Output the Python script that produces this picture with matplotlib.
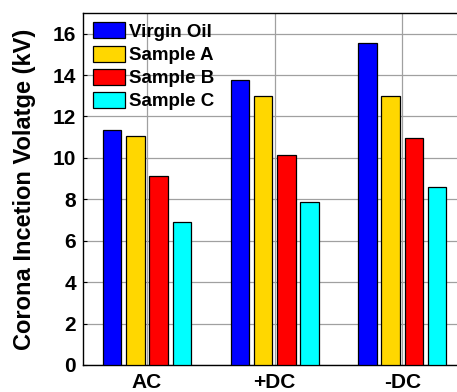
import numpy as np
import matplotlib
matplotlib.use("Agg")
import matplotlib.pyplot as plt
from matplotlib.patches import Patch

plt.rcParams['font.family'] = ['Liberation Sans', 'DejaVu Sans']
plt.rcParams['font.weight'] = 'bold'

# ---------------------------------------------- data
conditions = ["AC", "+DC", "-DC"]
samples = ["Virgin Oil", "Sample A", "Sample B", "Sample C"]
virgin_oil = [11.33, 13.76, 15.57]
sample_a = [11.07, 12.98, 12.98]
sample_b = [9.11, 10.13, 10.97]
sample_c = [6.91, 7.88, 8.61]
colors = ["#0000ff", "#ffd700", "#ff0000", "#00ffff"]

# ---------------------------------------------- plot
fig = plt.figure(figsize=(4.57, 3.92), dpi=100)
ax = fig.add_axes([0.182, 0.069, 0.838, 0.898])

x = np.arange(len(conditions))
step = 0.182
width = 0.145
for i, (vals, c) in enumerate(zip([virgin_oil, sample_a, sample_b, sample_c], colors)):
    ax.bar(x + (i - 1.5) * step, vals, width, color=c, edgecolor="black", lw=0.9, zorder=3)

ax.set_xlim(-0.5, 2.5)
ax.set_ylim(0, 17)
ax.set_yticks(np.arange(0, 17, 2))
ax.set_xticks(x)
ax.set_xticklabels(conditions, fontsize=15, fontweight="bold")
ax.tick_params(axis="y", labelsize=15, direction="in", length=3, pad=5)
ax.tick_params(axis="x", length=0, pad=5.5)
ax.grid(True, color="#a0a0a0", lw=0.9, zorder=0)
for s in ax.spines.values():
    s.set_linewidth(1.0)
ax.set_ylabel("Corona Incetion Volatge (kV)", fontsize=17, fontweight="bold", labelpad=12)

handles = [Patch(facecolor=c, edgecolor="black", lw=0.9) for c in colors]
ax.legend(handles, samples, loc="upper left", frameon=False, fontsize=13.5,
          handlelength=1.75, handleheight=0.95, handletextpad=0.2, labelspacing=0.25,
          borderaxespad=0.3, borderpad=0.2)

fig.savefig("out.png", dpi=100)
